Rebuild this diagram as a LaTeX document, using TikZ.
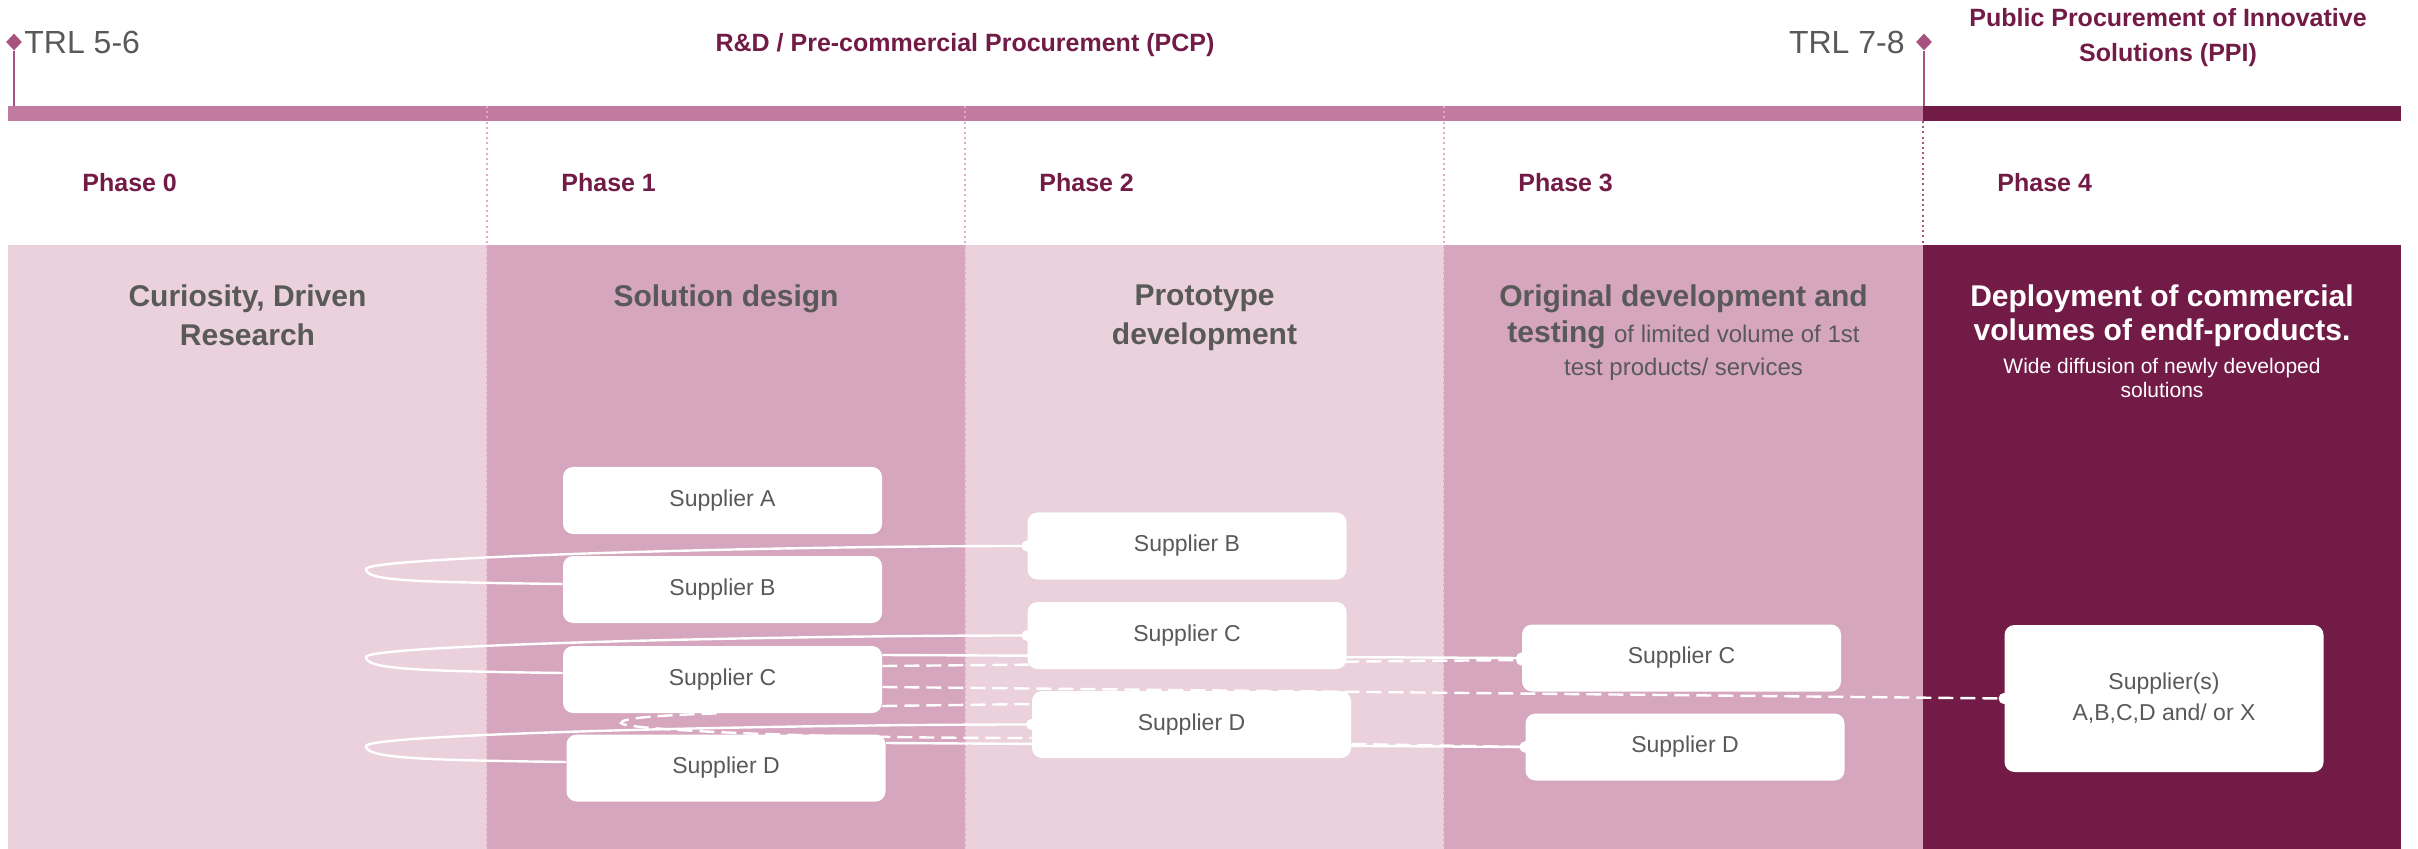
\documentclass[tikz,border=0pt]{standalone}
\usepackage{fontspec}
\setmainfont{Liberation Sans}
\usetikzlibrary{backgrounds,arrows.meta,shapes.geometric}

\definecolor{plum}{HTML}{731B47}
\definecolor{barpink}{HTML}{C27BA0}
\definecolor{colpale}{HTML}{EAD1DC}
\definecolor{colrose}{HTML}{D5A6BD}
\definecolor{inkgray}{HTML}{595959}
\definecolor{trlpink}{HTML}{A8527F}
\definecolor{dotpink}{HTML}{E3AAC4}

\tikzset{
  phaselabel/.style={anchor=base west,inner sep=0,text=plum,font=\fontsize{12.5}{15}\selectfont\bfseries},
  coltitle/.style={anchor=north,inner sep=0,align=center,text=inkgray,font=\fontsize{15}{19.5}\selectfont\bfseries},
  supplier/.style={fill=white,rounded corners=5pt,minimum width=159.5pt,minimum height=33.5pt,inner sep=0,text=inkgray,font=\fontsize{11.5}{15.5}\selectfont},
  link/.style={draw=white,line width=1.2pt},
  dashlink/.style={link,dash pattern=on 7.5pt off 3.5pt},
  tipdot/.style={-{Circle[length=5.5pt]},shorten >=-2.75pt},
  trlmark/.style={diamond,fill=trlpink,inner sep=0,minimum width=8pt,minimum height=8.5pt},
  divider/.style={draw=dotpink,line width=0.7pt,dash pattern=on 1pt off 1.6pt},
}

\begin{document}
\begin{tikzpicture}[x=0.5pt,y=-0.5pt]
    \pgfmathsetmacro{\coltop}{245}
    \pgfmathsetmacro{\colbot}{849}
    \pgfmathsetmacro{\bartop}{106}
    \pgfmathsetmacro{\barbot}{121}
    \useasboundingbox (0,0) rectangle (2418,849);
    \begin{scope}[on background layer]
        \fill[white] (0,0) rectangle (2418,849);
        % phase columns
        \fill[colpale] (8,\coltop) rectangle (487,\colbot);
        \fill[colrose] (487,\coltop) rectangle (965,\colbot);
        \fill[colpale] (965,\coltop) rectangle (1444,\colbot);
        \fill[colrose] (1444,\coltop) rectangle (1923,\colbot);
        \fill[plum] (1923,\coltop) rectangle (2401,\colbot);
        % timeline bar
        \fill[barpink] (8,\bartop) rectangle (1923,\barbot);
        \fill[plum] (1923,\bartop) rectangle (2401,\barbot);
        \draw[divider] (487,\bartop) -- (487,\colbot);
        \draw[divider] (965,\bartop) -- (965,\colbot);
        \draw[divider] (1444,\bartop) -- (1444,\colbot);
        \draw[divider,draw=trlpink] (1923,\barbot) -- (1923,\coltop);
    \end{scope}
    % TRL milestones
    \node[trlmark] (trlA) at (14,42) {};
    \coordinate (trlAbar) at (14,\bartop);
    \draw[trlpink,line width=1.2pt] (trlA.south) -- (trlAbar);
    \node[anchor=west,inner sep=0,text=inkgray,font=\fontsize{16}{19}\selectfont] (trlAtext) at (24,42) {TRL 5-6};
    \node[trlmark] (trlB) at (1924,42) {};
    \coordinate (trlBbar) at (1924,\bartop);
    \draw[trlpink,line width=1.2pt] (trlB.south) -- (trlBbar);
    \node[anchor=east,inner sep=0,text=inkgray,font=\fontsize{16}{19}\selectfont] (trlBtext) at (1905,42) {TRL 7-8};
    % programme headers
    \node[anchor=base,inner sep=0,text=plum,font=\fontsize{12.5}{15}\selectfont\bfseries] (pcp) at (965,52) {R\&D / Pre-commercial Procurement (PCP)};
    \node[anchor=north,align=center,inner sep=0,text=plum,font=\fontsize{12.5}{17.5}\selectfont\bfseries] (ppi) at (2168,8) {Public Procurement of Innovative\\Solutions (PPI)};
    % phases
    \node[phaselabel] (ph0) at (82,192) {Phase 0};
    \node[phaselabel] (ph1) at (561,192) {Phase 1};
    \node[phaselabel] (ph2) at (1039,192) {Phase 2};
    \node[phaselabel] (ph3) at (1518,192) {Phase 3};
    \node[phaselabel] (ph4) at (1997,192) {Phase 4};
    \node[coltitle] (t0) at (247.5,284) {Curiosity, Driven\\Research};
    \node[coltitle] (t1) at (726,284) {Solution design};
    \node[coltitle] (t2) at (1204.5,284) {Prototype\\development};
    \node[coltitle] (t3) at (1683.5,284) {Original development and\\[-1.5pt]testing {\mdseries\fontsize{12}{14}\selectfont of limited volume of 1st}\\[-3pt]{\mdseries\fontsize{12}{14}\selectfont test products/ services}};
    \node[coltitle,text=white] (t4) at (2162,284) {Deployment of commercial\\[-2.5pt]volumes of endf-products.\\[-3pt]{\mdseries\fontsize{10.5}{12}\selectfont Wide diffusion of newly developed}\\[-7.5pt]{\mdseries\fontsize{10.5}{12}\selectfont solutions}};
    % suppliers
    \node[supplier] (supA1) at (722.5,500.5) {Supplier A};
    \node[supplier] (supB1) at (722.5,589.5) {Supplier B};
    \node[supplier] (supC1) at (722.5,679.5) {Supplier C};
    \node[supplier] (supD1) at (726,768) {Supplier D};
    \node[supplier] (supB2) at (1187,546) {Supplier B};
    \node[supplier] (supC2) at (1187,635.5) {Supplier C};
    \node[supplier] (supD2) at (1191.5,724.5) {Supplier D};
    \node[supplier] (supC3) at (1681.5,658) {Supplier C};
    \node[supplier] (supD3) at (1685,747) {Supplier D};
    \node[supplier,minimum height=73.5pt,align=center] (supX) at (2164,698.5) {Supplier(s)\\A,B,C,D and/ or X};
    % connectors
    \coordinate (loopB) at (366,569);
    \coordinate (loopC) at (366,657);
    \coordinate (loopD) at (366,746);
    \coordinate (loopCD) at (621,723);
    \begin{scope}[on background layer]
        \draw[link,tipdot] ([yshift=2.75pt]supB1.west) .. controls +(-150,-2) and +(0,12) .. (loopB) .. controls +(0,-12) and +(-250,0) .. (supB2.west);
        \draw[link,tipdot] ([yshift=3.25pt]supC1.west) .. controls +(-150,-2) and +(0,12) .. (loopC) .. controls +(0,-12) and +(-250,0) .. (supC2.west);
        \draw[link,tipdot] ([yshift=3pt]supD1.west) .. controls +(-150,-2) and +(0,12) .. (loopD) .. controls +(0,-12) and +(-250,0) .. (supD2.west);
        \draw[link,tipdot] ([yshift=12.25pt]supC1.east) -- (supC3.west);
        \draw[dashlink,tipdot] ([yshift=6.75pt]supC1.east) -- ([yshift=-1pt]supC3.west);
        \draw[dashlink,tipdot] ([yshift=-3.75pt]supC1.east) -- (supX.west);
        \draw[dashlink] ([yshift=-13.25pt]supC1.east) -- ([yshift=10.25pt]supD2.west);
        \draw[dashlink] ([xshift=-3pt]supC1.south) .. controls +(-60,2) and +(0,-5) .. (loopCD) .. controls +(0,6) and +(-250,0) .. ([yshift=-6.75pt]supD2.west);
        \draw[link,tipdot] ([yshift=12.5pt]supD1.east) -- (supD3.west);
        \draw[dashlink,tipdot] ([yshift=-9.75pt]supD2.east) -- (supD3.west);
    \end{scope}
\end{tikzpicture}
\end{document}
